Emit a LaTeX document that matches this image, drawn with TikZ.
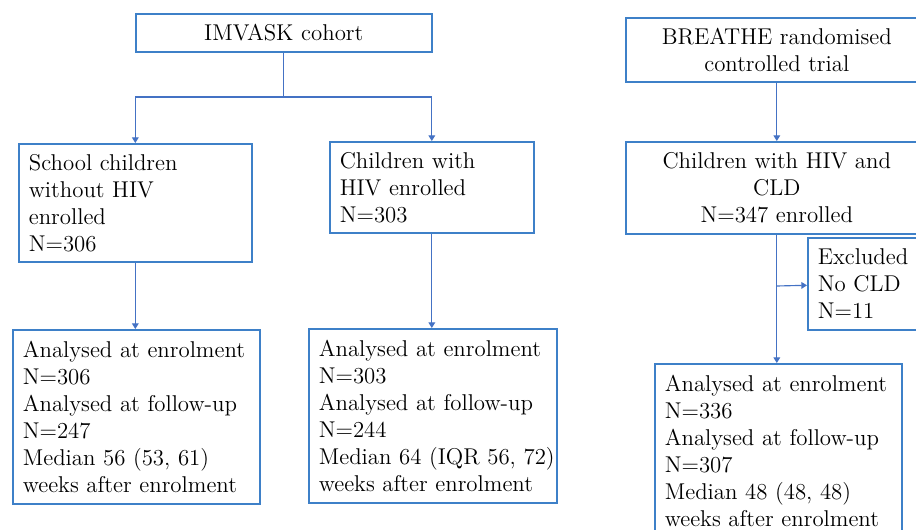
\documentclass[tikz,border=0pt]{standalone}
\usepackage{tikz}
\usetikzlibrary{arrows.meta, calc}

\definecolor{boxblue}{RGB}{62,128,200}
\definecolor{arrowblue}{RGB}{68,114,196}

\tikzset{
  flowbox/.style={rectangle, draw=boxblue, line width=0.95pt, anchor=north west,
    inner xsep=0.2cm, inner ysep=0pt, font=\fontsize{13}{15.4}\selectfont},
  leftbox/.style={flowbox, align=left},
  midbox/.style={flowbox, align=center},
  flowarrow/.style={arrowblue, line width=0.65pt, -{Triangle[length=3.2pt,width=3.8pt]}}
}

\begin{document}
\begin{tikzpicture}[x=0.02cm, y=-0.02cm]
\useasboundingbox (0,0) rectangle (916,529);
\clip (0,0) rectangle (916,529);

\node[midbox, minimum width=5.92cm, minimum height=0.76cm, text width=5.52cm] (imvask) at (135,13) {IMVASK cohort};
\node[leftbox, minimum width=4.66cm, minimum height=2.36cm, text width=4.26cm] (school) at (18,143) {School children\\ without HIV\\ enrolled\\ N=306};
\node[leftbox, minimum width=4.08cm, minimum height=1.82cm, text width=3.68cm] (hiv) at (329,141) {Children with\\ HIV enrolled\\ N=303};
\node[leftbox, minimum width=4.94cm, minimum height=3.48cm, text width=4.54cm] (bleft) at (12,329) {Analysed at enrolment\\ N=306\\ Analysed at follow-up\\ N=247\\ Median 56 (53, 61)\\ weeks after enrolment};
\node[leftbox, minimum width=4.96cm, minimum height=3.48cm, text width=4.56cm] (bmid) at (308,328) {Analysed at enrolment\\ N=303\\ Analysed at follow-up\\ N=244\\ Median~64~(IQR~56,~72)\\ weeks after enrolment};

\node[midbox, minimum width=6.04cm, minimum height=1.28cm, text width=5.64cm] (breathe) at (625,17) {BREATHE randomised\\ controlled trial};
\node[midbox, minimum width=6.04cm, minimum height=1.84cm, text width=5.64cm] (cld) at (625,141) {Children with HIV and\\ CLD\\ N=347 enrolled};
\node[leftbox, minimum width=2.4cm, minimum height=1.84cm, text width=2.0cm] (excl) at (807,237) {Excluded\\ No CLD\\ N=11};
\node[leftbox, minimum width=4.94cm, minimum height=3.48cm, text width=4.54cm] (bright) at (654,363) {Analysed at enrolment\\ N=336\\ Analysed at follow-up\\ N=307\\ Median 48 (48, 48)\\ weeks after enrolment};

\coordinate (split) at (imvask.south |- 0,97);
\coordinate (branch) at ($(cld.south)!0.4!(cld.south |- bright.north)$);

\draw[flowarrow] (imvask) -- (split) -| (school);
\draw[flowarrow] (split) -| (hiv);
\draw[flowarrow] (school.south) -- (school.south |- bleft.north);
\draw[flowarrow] (hiv.south) -- (hiv.south |- bmid.north);
\draw[flowarrow] (breathe.south) -- (cld.north);
\draw[flowarrow] (cld.south) -- (cld.south |- bright.north);
\draw[flowarrow] (branch) -- (excl);
\end{tikzpicture}
\end{document}
